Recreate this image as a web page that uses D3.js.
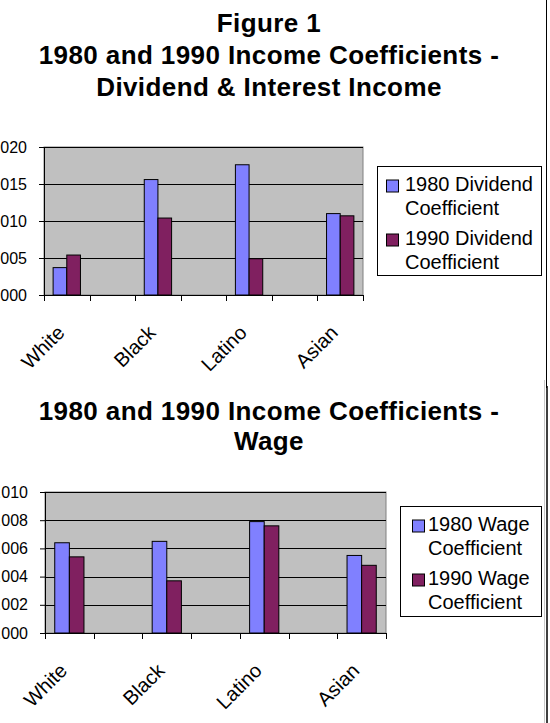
<!DOCTYPE html>
<html>
<head>
<meta charset="utf-8">
<script src="https://cdn.jsdelivr.net/npm/d3@7"></script>
<style>
  body { margin: 0; background: #fff; overflow: hidden; }
  svg { display: block; font-family: Arial, "Liberation Sans", sans-serif; }
</style>
</head>
<body>
<script>
// data
const categories = ["White", "", "Black", "", "Latino", "", "Asian"];
const dividend1980 = [0.0037, null, 0.0156, null, 0.0176, null, 0.0110];
const dividend1990 = [0.0054, null, 0.0104, null, 0.0049, null, 0.0107];
const wage1980 = [0.0064, null, 0.0065, null, 0.0079, null, 0.0055];
const wage1990 = [0.0054, null, 0.0037, null, 0.0076, null, 0.0048];
const dividendTicks = [0, 0.005, 0.010, 0.015, 0.020];
const wageTicks = [0, 0.002, 0.004, 0.006, 0.008, 0.010];
const years = ["1980", "1990"];
const colors = ["#8080ff", "#802060"];

const width = 550, height = 723;

const svg = d3.select("body").append("svg")
    .attr("width", width)
    .attr("height", height);

// right edges of the two chart areas (rest is off page)
svg.append("line")
    .attr("x1", 546.5).attr("x2", 546.5).attr("y1", 0).attr("y2", 388)
    .attr("stroke", "#000");
svg.append("line")
    .attr("x1", 544.5).attr("x2", 544.5).attr("y1", 380).attr("y2", height)
    .attr("stroke", "#c8c8c8");
svg.append("line")
    .attr("x1", 547).attr("x2", 547).attr("y1", 386).attr("y2", height)
    .attr("stroke", "#000").attr("stroke-width", 1.5);

function drawChart(opt) {
  const g = svg.append("g");

  // title
  g.append("g").selectAll("text")
      .data(opt.title)
    .enter().append("text")
      .attr("x", opt.titleX)
      .attr("y", (d, i) => opt.titleY + i * opt.titleStep)
      .attr("text-anchor", "middle")
      .style("font-size", "26px")
      .style("font-weight", "bold")
      .style("letter-spacing", "0.4px")
      .text(d => d);

  const x = d3.scaleBand()
      .domain(d3.range(categories.length))
      .range([opt.left, opt.right]);

  const xs = d3.scaleBand()
      .domain(years)
      .range([0, x.bandwidth()])
      .paddingOuter(0.667);

  const y = d3.scaleLinear()
      .domain([0, opt.max])
      .range([opt.bottom, opt.top]);

  // plot area
  g.append("rect")
      .attr("x", opt.left).attr("y", opt.top)
      .attr("width", opt.right - opt.left).attr("height", opt.bottom - opt.top)
      .attr("fill", "#c0c0c0")
      .attr("stroke", "#808080");

  // gridlines
  g.append("g").selectAll("line")
      .data(opt.ticks.slice(1))
    .enter().append("line")
      .attr("x1", opt.left).attr("x2", opt.right)
      .attr("y1", d => Math.round(y(d)) + 0.5).attr("y2", d => Math.round(y(d)) + 0.5)
      .attr("stroke", "#000");

  // bars
  const series = [opt.s1980, opt.s1990];
  series.forEach((vals, si) => {
    g.append("g").selectAll("rect")
        .data(vals.map((v, i) => ({ i, v })).filter(d => d.v != null))
      .enter().append("rect")
        .attr("x", d => x(d.i) + xs(years[si]))
        .attr("width", xs.bandwidth())
        .attr("y", d => y(d.v))
        .attr("height", d => y(0) - y(d.v))
        .attr("fill", colors[si])
        .attr("stroke", "#000");
  });

  // y axis
  const ya = g.append("g")
      .attr("transform", `translate(${opt.left},0)`)
      .call(d3.axisLeft(y).tickValues(opt.ticks).tickFormat(d3.format(".3f"))
        .tickSizeOuter(0).tickSize(5).tickPadding(12));
  ya.select(".domain").attr("stroke", "#000");
  ya.selectAll("text").style("font-size", "16px").attr("fill", "#000");

  // x axis: separators between the 7 slots, labels rotated
  const xa = g.append("g")
      .attr("transform", `translate(0,${opt.bottom})`)
      .call(d3.axisBottom(x).tickValues([]).tickSizeOuter(0));
  xa.select(".domain").attr("stroke", "#000");
  xa.selectAll("line.sep")
      .data(d3.range(categories.length + 1))
    .enter().append("line")
      .attr("class", "sep")
      .attr("x1", d => Math.round(opt.left + d * x.step()) + 0.5)
      .attr("x2", d => Math.round(opt.left + d * x.step()) + 0.5)
      .attr("y1", 0).attr("y2", 6)
      .attr("stroke", "#000");
  xa.selectAll("text.cat")
      .data(categories)
    .enter().append("text")
      .attr("class", "cat")
      .attr("text-anchor", "end")
      .attr("fill", "#000")
      .attr("transform", (d, i) =>
        `translate(${x(i) + x.bandwidth() / 2 - 1},${opt.labelDy}) rotate(-45)`)
      .style("font-size", "20px")
      .text(d => d);

  // legend
  const lg = g.append("g");
  lg.append("rect")
      .attr("x", opt.legend.x0).attr("y", opt.legend.y0)
      .attr("width", opt.legend.x1 - opt.legend.x0)
      .attr("height", opt.legend.y1 - opt.legend.y0)
      .attr("fill", "#fff").attr("stroke", "#000");
  const items = lg.selectAll("g")
      .data(opt.legend.labels)
    .enter().append("g")
      .attr("transform", (d, i) => `translate(0,${opt.legend.base + i * opt.legend.step})`);
  items.append("rect")
      .attr("x", opt.legend.sx).attr("y", -11)
      .attr("width", 12).attr("height", 12)
      .attr("fill", (d, i) => colors[i]).attr("stroke", "#000");
  items.append("text")
      .attr("x", opt.legend.tx)
      .style("font-size", "20px")
      .text(d => d[0]);
  items.append("text")
      .attr("x", opt.legend.tx)
      .attr("y", 24)
      .style("font-size", "20px")
      .text(d => d[1]);
}

drawChart({
  title: ["Figure 1", "1980 and 1990 Income Coefficients -", "Dividend & Interest Income"],
  titleX: 269, titleY: 32, titleStep: 32,
  left: 44, right: 363, top: 147, bottom: 295,
  max: 0.020, ticks: dividendTicks,
  s1980: dividend1980, s1990: dividend1990,
  labelDy: 39,
  legend: {
    x0: 377.5, y0: 166.5, x1: 541.5, y1: 275.5,
    sx: 386.5, tx: 405, base: 191, step: 54,
    labels: [["1980 Dividend", "Coefficient"], ["1990 Dividend", "Coefficient"]]
  }
});

drawChart({
  title: ["1980 and 1990 Income Coefficients -", "Wage"],
  titleX: 269, titleY: 420, titleStep: 30,
  left: 45, right: 386, top: 492, bottom: 633,
  max: 0.010, ticks: wageTicks,
  s1980: wage1980, s1990: wage1990,
  labelDy: 39,
  legend: {
    x0: 400.5, y0: 506.5, x1: 541.5, y1: 616.5,
    sx: 412.5, tx: 428, base: 531, step: 54,
    labels: [["1980 Wage", "Coefficient"], ["1990 Wage", "Coefficient"]]
  }
});
</script>
</body>
</html>
